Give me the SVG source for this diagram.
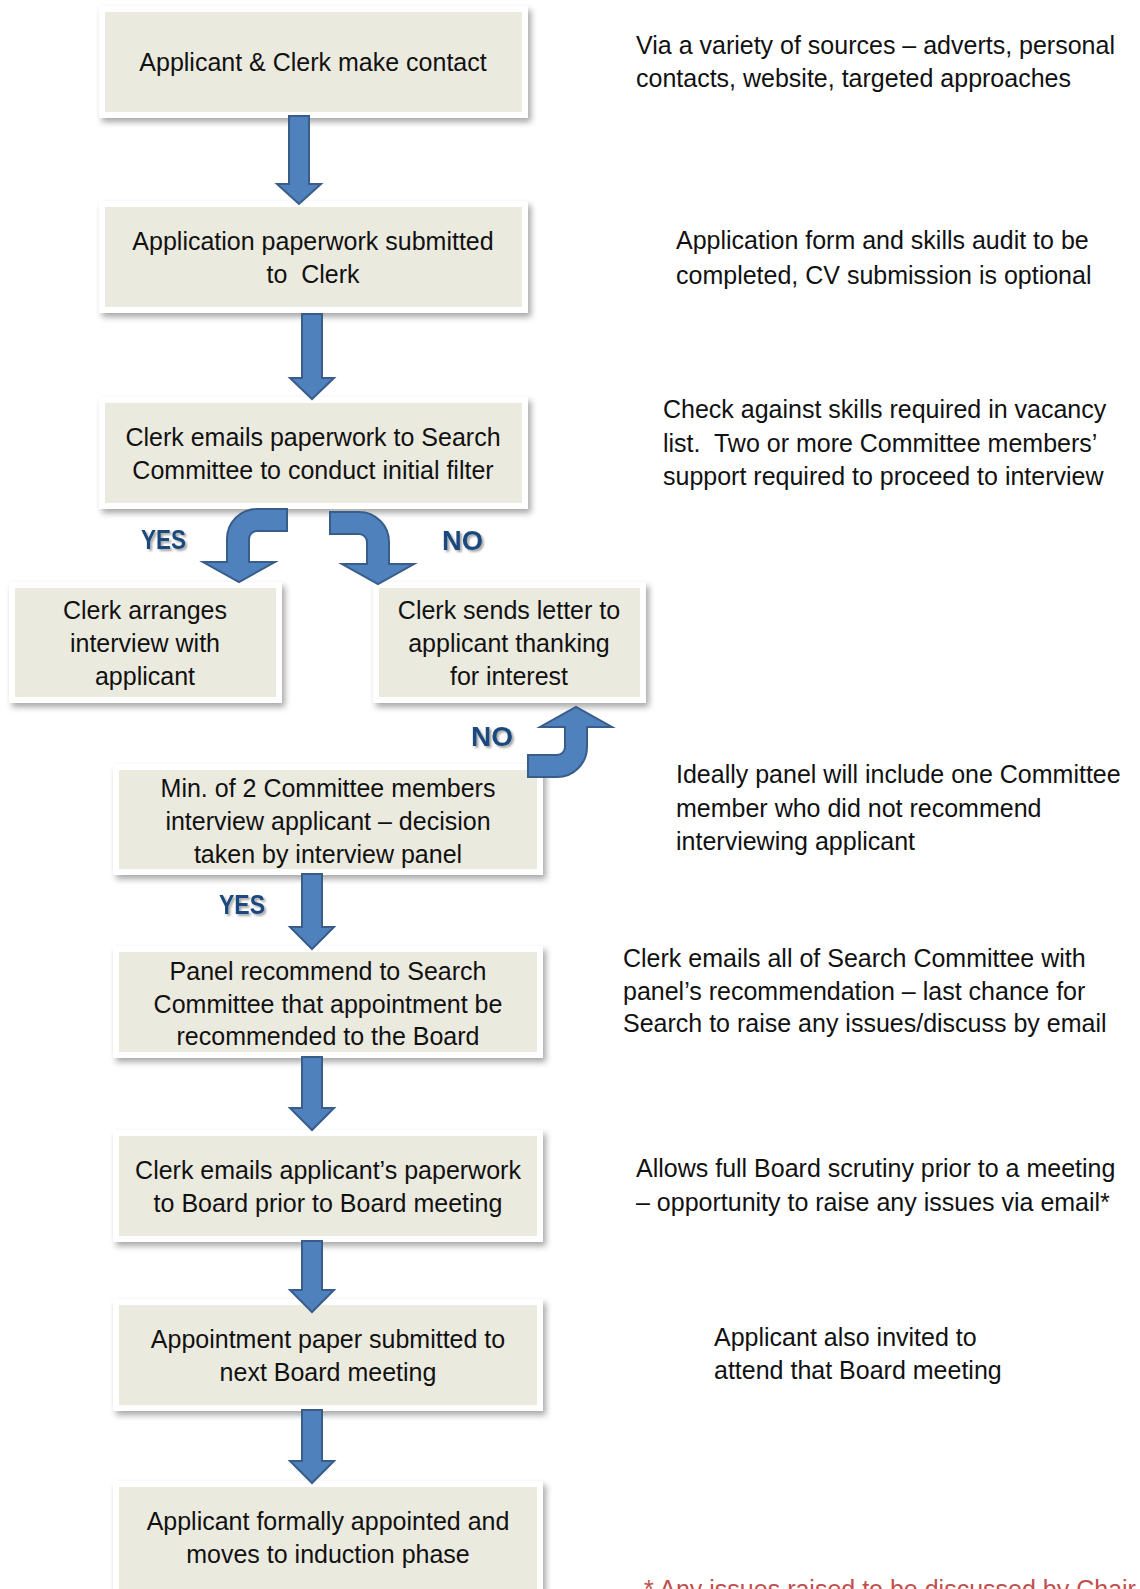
<svg xmlns="http://www.w3.org/2000/svg" width="1140" height="1589" viewBox="0 0 1140 1589">
<defs>
<filter id="sh" x="-10%" y="-20%" width="125%" height="150%">
<feDropShadow dx="3" dy="4" stdDeviation="3" flood-color="#000" flood-opacity="0.35"/>
</filter>
<filter id="tsh" x="-20%" y="-30%" width="150%" height="170%">
<feDropShadow dx="2" dy="2" stdDeviation="1.2" flood-color="#000" flood-opacity="0.35"/>
</filter>
<style>
.frame{fill:#ffffff;filter:url(#sh)}
.fill{fill:#EBEADF}
.t{font-family:"Liberation Sans",Arial,sans-serif;font-size:25px;fill:#111;text-anchor:middle}
.n{font-family:"Liberation Sans",Arial,sans-serif;font-size:25px;fill:#111}
.red{fill:#C0504D}
.lbl{font-family:"Liberation Sans",Arial,sans-serif;font-size:27px;font-weight:bold;fill:#1F497D;filter:url(#tsh)}
.arr{fill:#4F81BD;stroke:#385D8A;stroke-width:2;stroke-linejoin:miter}
</style>
</defs>
<rect width="1140" height="1589" fill="#ffffff"/>

<g id="n1">
<rect class="frame" x="99" y="6" width="429" height="112"/>
<rect class="fill" x="105" y="12" width="417" height="100"/>
<text class="t" x="313" y="71">Applicant &amp; Clerk make contact</text>
</g>
<g id="n2">
<rect class="frame" x="99" y="201" width="429" height="112"/>
<rect class="fill" x="105" y="207" width="417" height="100"/>
<text class="t" x="313" y="250">Application paperwork submitted</text>
<text class="t" x="313" y="283" xml:space="preserve">to  Clerk</text>
</g>
<g id="n3">
<rect class="frame" x="99" y="397" width="429" height="112"/>
<rect class="fill" x="105" y="403" width="417" height="100"/>
<text class="t" x="313" y="446">Clerk emails paperwork to Search</text>
<text class="t" x="313" y="479">Committee to conduct initial filter</text>
</g>
<g id="n4">
<rect class="frame" x="9" y="582" width="273" height="121"/>
<rect class="fill" x="15" y="588" width="261" height="109"/>
<text class="t" x="145" y="619">Clerk arranges</text>
<text class="t" x="145" y="652">interview with</text>
<text class="t" x="145" y="685">applicant</text>
</g>
<g id="n5">
<rect class="frame" x="373" y="582" width="273" height="121"/>
<rect class="fill" x="379" y="588" width="261" height="109"/>
<text class="t" x="509" y="619">Clerk sends letter to</text>
<text class="t" x="509" y="652">applicant thanking</text>
<text class="t" x="509" y="685">for interest</text>
</g>
<g id="n6">
<rect class="frame" x="113" y="764" width="430" height="111"/>
<rect class="fill" x="119" y="770" width="418" height="99"/>
<text class="t" x="328" y="797">Min. of 2 Committee members</text>
<text class="t" x="328" y="830">interview applicant – decision</text>
<text class="t" x="328" y="863">taken by interview panel</text>
</g>
<g id="n7">
<rect class="frame" x="113" y="946" width="430" height="112"/>
<rect class="fill" x="119" y="952" width="418" height="100"/>
<text class="t" x="328" y="980">Panel recommend to Search</text>
<text class="t" x="328" y="1013">Committee that appointment be</text>
<text class="t" x="328" y="1045">recommended to the Board</text>
</g>
<g id="n8">
<rect class="frame" x="113" y="1130" width="430" height="112"/>
<rect class="fill" x="119" y="1136" width="418" height="100"/>
<text class="t" x="328" y="1179">Clerk emails applicant’s paperwork</text>
<text class="t" x="328" y="1212">to Board prior to Board meeting</text>
</g>
<g id="n9">
<rect class="frame" x="113" y="1299" width="430" height="112"/>
<rect class="fill" x="119" y="1305" width="418" height="100"/>
<text class="t" x="328" y="1348">Appointment paper submitted to</text>
<text class="t" x="328" y="1381">next Board meeting</text>
</g>
<g id="n10">
<rect class="frame" x="113" y="1481" width="430" height="112"/>
<rect class="fill" x="119" y="1487" width="418" height="102"/>
<text class="t" x="328" y="1530">Applicant formally appointed and</text>
<text class="t" x="328" y="1563">moves to induction phase</text>
</g>

<g id="connectors">
<path class="arr" d="M289,116 H309 V184 H321 L299,204 L277,184 H289 Z"/>
<path class="arr" d="M302,314 H322 V378 H334 L312,399 L290,378 H302 Z"/>
<path class="arr" d="M227,562 V539 A30,30 0 0 1 257,509 H287 V531 H257 A8,8 0 0 0 249,539 V562 H275 L239,582 L203,562 Z"/>
<path class="arr" d="M389,564 V542 A30,30 0 0 0 359,512 H330 V534 H359 A8,8 0 0 1 367,542 V564 H342 L378,584 L414,564 Z"/>
<path class="arr" d="M528,777 H557 A30,30 0 0 0 587,747 V727 H612 L576,707 L540,727 H565 V747 A8,8 0 0 1 557,755 H528 Z"/>
<path class="arr" d="M302,874 H322 V927 H334 L312,949 L290,927 H302 Z"/>
<path class="arr" d="M302,1057 H322 V1108 H334 L312,1130 L290,1108 H302 Z"/>
<path class="arr" d="M302,1241 H322 V1290 H334 L312,1312 L290,1290 H302 Z"/>
<path class="arr" d="M302,1410 H322 V1461 H334 L312,1483 L290,1461 H302 Z"/>
<text class="lbl" x="141" y="549" textLength="45" lengthAdjust="spacingAndGlyphs">YES</text>
<text class="lbl" x="442" y="550" textLength="41" lengthAdjust="spacingAndGlyphs">NO</text>
<text class="lbl" x="471" y="746" textLength="42" lengthAdjust="spacingAndGlyphs">NO</text>
<text class="lbl" x="219" y="914" textLength="46" lengthAdjust="spacingAndGlyphs">YES</text>
</g>

<g id="notes">
<text class="n" x="636" y="54">Via a variety of sources – adverts, personal</text>
<text class="n" x="636" y="87">contacts, website, targeted approaches</text>
<text class="n" x="676" y="249">Application form and skills audit to be</text>
<text class="n" x="676" y="284">completed, CV submission is optional</text>
<text class="n" x="663" y="418">Check against skills required in vacancy</text>
<text class="n" x="663" y="452" xml:space="preserve">list.  Two or more Committee members’</text>
<text class="n" x="663" y="485">support required to proceed to interview</text>
<text class="n" x="676" y="783">Ideally panel will include one Committee</text>
<text class="n" x="676" y="817">member who did not recommend</text>
<text class="n" x="676" y="850">interviewing applicant</text>
<text class="n" x="623" y="967">Clerk emails all of Search Committee with</text>
<text class="n" x="623" y="1000">panel’s recommendation – last chance for</text>
<text class="n" x="623" y="1032">Search to raise any issues/discuss by email</text>
<text class="n" x="636" y="1177">Allows full Board scrutiny prior to a meeting</text>
<text class="n" x="636" y="1211">– opportunity to raise any issues via email*</text>
<text class="n" x="714" y="1346">Applicant also invited to</text>
<text class="n" x="714" y="1379">attend that Board meeting</text>
<text class="n red" x="644" y="1598">* Any issues raised to be discussed by Chair</text>
</g>
</svg>
